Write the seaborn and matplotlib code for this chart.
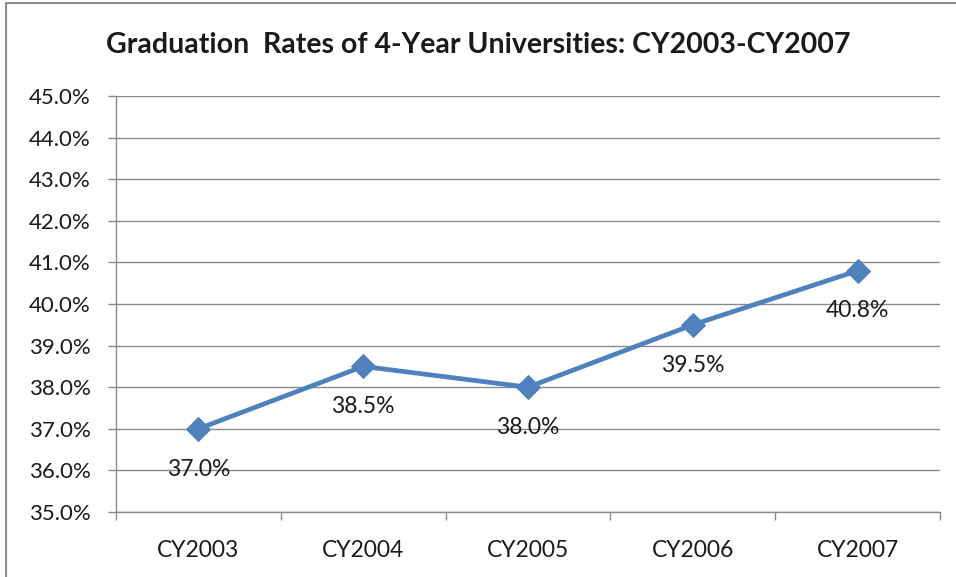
import matplotlib
matplotlib.use("Agg")
import pandas as pd
import seaborn as sns
import matplotlib.pyplot as plt
from matplotlib.patches import Rectangle
from matplotlib.ticker import FixedLocator, PercentFormatter

years = ["CY2003", "CY2004", "CY2005", "CY2006", "CY2007"]
rates = [37.0, 38.5, 38.0, 39.5, 40.8]
y_ticks = [35.0, 36.0, 37.0, 38.0, 39.0, 40.0, 41.0, 42.0, 43.0, 44.0, 45.0]

sns.set_theme(style="white")
plt.rcParams["font.family"] = ["Lato", "DejaVu Sans"]

df = pd.DataFrame({"year": years, "rate": rates})

fig = plt.figure(figsize=(9.56, 5.77), dpi=100)
ax = fig.add_axes([116 / 956, 1 - 512 / 577, (940 - 116) / 956, (512 - 96) / 577])

# chart border (left / top visible)
fig.patches.append(Rectangle((6 / 956, -0.1), 1.2, 1 - 3 / 577 + 0.1,
                             transform=fig.transFigure, fill=False,
                             edgecolor="#8c8c8c", linewidth=1.5))

blue = "#4F81BD"
txt = "#1a1a1a"
sns.lineplot(data=df, x="year", y="rate", ax=ax, color=blue, linewidth=3.4,
             marker="D", markersize=12.5, markeredgecolor=blue, sort=False)

for i, v in enumerate(rates):
    ax.annotate(f"{v:.1f}%", (i, v), xytext=(0, -29), textcoords="offset points",
                ha="center", va="center", fontsize=16.5, color=txt)

ax.set_ylim(35, 45)
ax.set_xlim(-0.5, len(years) - 0.5)
ax.set_yticks(y_ticks)
ax.yaxis.set_major_formatter(PercentFormatter(decimals=1))
ax.grid(axis="y", color="#8a8a8a", linewidth=1)
ax.set_axisbelow(True)
ax.xaxis.set_minor_locator(FixedLocator([i - 0.5 for i in range(len(years) + 1)]))
ax.tick_params(axis="x", which="major", length=0, pad=20, labelsize=16.5, labelcolor=txt)
ax.tick_params(axis="x", which="minor", length=6, width=1, color="#8a8a8a", bottom=True)
ax.tick_params(axis="y", length=6, width=1, color="#8a8a8a", left=True, pad=12,
               labelsize=16, labelcolor=txt)
ax.set_xlabel("")
ax.set_ylabel("")
for side in ["top", "right"]:
    ax.spines[side].set_visible(False)
for side in ["left", "bottom"]:
    ax.spines[side].set_color("#8a8a8a")
    ax.spines[side].set_linewidth(1)

fig.text(0.5, 1 - 45 / 577, "Graduation  Rates of 4-Year Universities: CY2003-CY2007",
         ha="center", va="center", fontsize=20.5, fontweight="bold", color=txt)

fig.savefig("out.png", dpi=100)
